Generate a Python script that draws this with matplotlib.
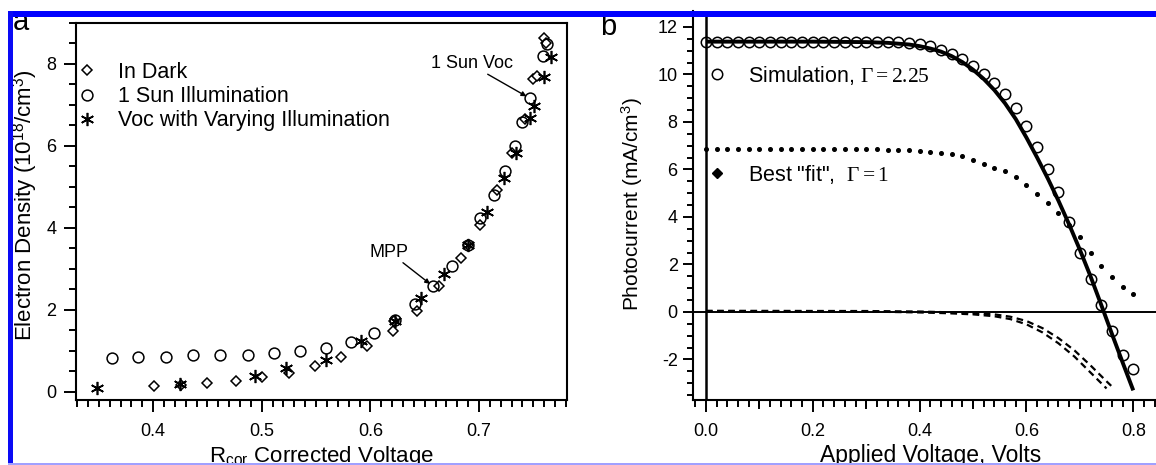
import matplotlib
matplotlib.use('Agg')
import matplotlib.pyplot as plt
from matplotlib.lines import Line2D
from matplotlib.patches import Rectangle
from matplotlib.ticker import MultipleLocator, FormatStrFormatter

plt.rcParams.update({
    'font.family': ['Liberation Sans', 'DejaVu Sans'],
    'mathtext.fontset': 'custom',
    'mathtext.rm': 'Liberation Serif',
    'mathtext.it': 'Liberation Serif:italic',
    'mathtext.bf': 'Liberation Serif:bold',
    'mathtext.sf': 'Liberation Sans',
    'axes.unicode_minus': False,
})

# ---------------- Panel a data ----------------
dark_v = [0.401, 0.426, 0.450, 0.476, 0.500, 0.525, 0.549, 0.573, 0.597, 0.621, 0.622,
          0.643, 0.663, 0.683, 0.690, 0.701, 0.717, 0.730, 0.742, 0.750, 0.753, 0.760, 0.762]
dark_n = [0.15, 0.17, 0.21, 0.27, 0.36, 0.46, 0.62, 0.84, 1.11, 1.49, 1.72,
          1.96, 2.58, 3.27, 3.59, 4.06, 4.92, 5.82, 6.65, 7.63, 7.70, 8.64, 8.50]

sun_v = [0.362, 0.386, 0.412, 0.437, 0.462, 0.487, 0.511, 0.535, 0.559, 0.582, 0.603, 0.623,
         0.641, 0.658, 0.675, 0.690, 0.701, 0.714, 0.724, 0.733, 0.740, 0.747, 0.759, 0.763]
sun_n = [0.82, 0.85, 0.86, 0.89, 0.89, 0.90, 0.95, 1.00, 1.08, 1.21, 1.43, 1.76,
         2.15, 2.57, 3.06, 3.59, 4.25, 4.80, 5.39, 6.00, 6.59, 7.16, 8.20, 8.48]

voc_v = [0.348, 0.425, 0.494, 0.522, 0.559, 0.591, 0.623, 0.647, 0.668, 0.690, 0.707,
         0.723, 0.734, 0.747, 0.751, 0.760, 0.766]
voc_n = [0.09, 0.20, 0.39, 0.58, 0.78, 1.23, 1.72, 2.29, 2.88, 3.59, 4.38,
         5.22, 5.82, 6.69, 6.98, 7.69, 8.18]

mpp_point = (0.658, 2.57)
voc_point = (0.747, 7.16)

# ---------------- Panel b data ----------------
sim_v = [0.00, 0.02, 0.04, 0.06, 0.08, 0.10, 0.12, 0.14, 0.16, 0.18, 0.20, 0.22, 0.24, 0.26,
         0.28, 0.30, 0.32, 0.34, 0.36, 0.38, 0.40, 0.42, 0.44, 0.46, 0.48, 0.50, 0.52, 0.54,
         0.56, 0.58, 0.60, 0.62, 0.64, 0.66, 0.68, 0.70, 0.72, 0.74, 0.76, 0.78, 0.80]
sim_i = [11.38, 11.38, 11.38, 11.38, 11.38, 11.38, 11.38, 11.38, 11.38, 11.38, 11.38, 11.38,
         11.38, 11.38, 11.38, 11.37, 11.37, 11.36, 11.35, 11.33, 11.30, 11.20, 11.04, 10.86,
         10.63, 10.36, 10.02, 9.63, 9.18, 8.58, 7.85, 6.95, 6.02, 5.05, 3.80, 2.48, 1.40,
         0.30, -0.80, -1.80, -2.40]

fit_v = [0.00, 0.10, 0.20, 0.30, 0.34, 0.38, 0.40, 0.42, 0.44, 0.46, 0.48, 0.50, 0.52, 0.54,
         0.56, 0.58, 0.60, 0.62, 0.64, 0.66, 0.68, 0.70, 0.72, 0.74, 0.76, 0.78, 0.80]
fit_i = [11.38, 11.38, 11.38, 11.36, 11.33, 11.26, 11.19, 11.09, 10.96, 10.77, 10.52, 10.20,
         9.81, 9.34, 8.78, 8.12, 7.34, 6.50, 5.62, 4.68, 3.68, 2.62, 1.50, 0.30, -0.92,
         -2.12, -3.30]

best_v = sim_v
best_i = [6.86, 6.86, 6.86, 6.86, 6.86, 6.86, 6.86, 6.86, 6.86, 6.86, 6.86, 6.86, 6.86, 6.86,
          6.86, 6.85, 6.84, 6.83, 6.82, 6.80, 6.78, 6.75, 6.70, 6.64, 6.55, 6.40, 6.23, 6.07,
          5.92, 5.68, 5.33, 4.95, 4.60, 4.15, 3.68, 3.15, 2.50, 1.93, 1.48, 1.05, 0.75]

dash1_v = [0.00, 0.30, 0.40, 0.45, 0.50, 0.54, 0.57, 0.60, 0.63, 0.66, 0.69, 0.72, 0.75]
dash1_i = [0.03, 0.02, -0.02, -0.05, -0.10, -0.18, -0.30, -0.52, -0.86, -1.32, -1.88, -2.55, -3.22]
dash2_v = [0.00, 0.30, 0.40, 0.45, 0.50, 0.54, 0.57, 0.60, 0.63, 0.66, 0.69, 0.72, 0.75, 0.762]
dash2_i = [0.05, 0.04, 0.02, -0.01, -0.05, -0.10, -0.20, -0.38, -0.68, -1.10, -1.62, -2.25, -2.92, -3.18]

# ---------------- Figure ----------------
W, H = 1156, 465
fig = plt.figure(figsize=(W / 100, H / 100), dpi=100)


def rect(l, t, r, b):
    return [l / W, 1 - b / H, (r - l) / W, (b - t) / H]


axa = fig.add_axes(rect(76, 23, 567, 400))
axb = fig.add_axes(rect(693, 11, 1176, 400))

TICK_FS = 13
LEG_FS = 15.5

# ---- panel a ----
axa.plot(dark_v, dark_n, ls='none', marker='D', ms=4.7, mfc='white', mec='k', mew=1.1,
         label='In Dark', zorder=3)
axa.plot(sun_v, sun_n, ls='none', marker='o', ms=7.8, mfc='none', mec='k', mew=1.1,
         label='1 Sun Illumination', zorder=4)
axa.plot(voc_v, voc_n, ls='none', marker=(6, 2, 0), ms=9.5, mec='k', mew=1.2,
         label='Voc with Varying Illumination', zorder=5)

axa.set_xlim(0.329, 0.781)
axa.set_ylim(-0.2, 9.0)
axa.xaxis.set_major_locator(MultipleLocator(0.1))
axa.xaxis.set_minor_locator(MultipleLocator(0.01))
axa.xaxis.set_major_formatter(FormatStrFormatter('%.1f'))
axa.yaxis.set_major_locator(MultipleLocator(2))
axa.yaxis.set_minor_locator(MultipleLocator(0.5))
for s in axa.spines.values():
    s.set_linewidth(1.5)
axa.tick_params(axis='both', which='major', direction='out', width=1.4, labelsize=TICK_FS)
axa.tick_params(axis='x', which='major', length=8.6, pad=8)
axa.tick_params(axis='x', which='minor', length=5, width=1.4)
axa.tick_params(axis='y', which='major', length=9, pad=5)
axa.tick_params(axis='y', which='minor', length=5, width=1.4)

axa.set_ylabel('Electron Density (10$^{\\mathsf{18}}$/cm$^{\\mathsf{3}}$)', fontsize=16)
axa.yaxis.set_label_coords(-0.0733, 0.517)
axa.set_xlabel('R$_{\\mathsf{cor}}$ Corrected Voltage', fontsize=16)
axa.xaxis.set_label_coords(0.5, -(462 - 400) / 377)
axa.xaxis.label.set_va('baseline')

axa.legend(loc='upper left', bbox_to_anchor=(78.4 / W, 1 - 62 / H), bbox_transform=fig.transFigure,
           frameon=False, fontsize=LEG_FS, handlelength=0.8, handletextpad=1.05,
           labelspacing=0.15, borderpad=0, borderaxespad=0)

axa.text(0.6175, 3.40, 'MPP', fontsize=13, ha='center', va='center')
axa.annotate('', xy=mpp_point, xytext=(0.630, 3.15),
             arrowprops=dict(arrowstyle='-|>', lw=1.0, color='k', mutation_scale=7,
                             shrinkA=0, shrinkB=3))
axa.text(0.694, 8.00, '1 Sun Voc', fontsize=13, ha='center', va='center')
axa.annotate('', xy=voc_point, xytext=(0.708, 7.75),
             arrowprops=dict(arrowstyle='-|>', lw=1.0, color='k', mutation_scale=7,
                             shrinkA=0, shrinkB=3))

# ---- panel b ----
axb.axhline(0, color='k', lw=1.4, zorder=2)
axb.axvline(0, color='k', lw=1.8, zorder=2)
axb.plot(dash1_v, dash1_i, color='k', ls=(0, (3, 2)), lw=1.6, zorder=3)
axb.plot(dash2_v, dash2_i, color='k', ls=(0, (3, 2)), lw=1.6, zorder=3)
axb.plot(best_v, best_i, ls='none', marker='o', ms=2.6, color='k', zorder=3)
axb.plot(fit_v, fit_i, color='k', lw=2.8, solid_capstyle='butt', zorder=4)
axb.plot(sim_v, sim_i, ls='none', marker='o', ms=7.5, mfc='none', mec='k', mew=1.1, zorder=5)

axb.set_xlim(-0.0243, 0.88)
axb.set_ylim(-3.705, 12.67)
axb.spines['top'].set_visible(False)
axb.spines['right'].set_visible(False)
for s in ('left', 'bottom'):
    axb.spines[s].set_linewidth(1.5)
axb.xaxis.set_major_locator(MultipleLocator(0.2))
axb.xaxis.set_minor_locator(MultipleLocator(0.02))
axb.xaxis.set_major_formatter(FormatStrFormatter('%.1f'))
axb.yaxis.set_major_locator(MultipleLocator(2))
axb.yaxis.set_minor_locator(MultipleLocator(0.5))
axb.tick_params(axis='both', which='major', direction='out', width=1.4, labelsize=TICK_FS)
axb.tick_params(axis='x', which='major', length=8.6, pad=8)
axb.tick_params(axis='x', which='minor', length=5, width=1.4)
axb.tick_params(axis='y', which='major', length=7.5, pad=3.5)
axb.tick_params(axis='y', which='minor', length=4.3, width=1.4)
sec = axb.secondary_xaxis('bottom')
sec.set_xticks([0.1, 0.3, 0.5, 0.7])
sec.tick_params(length=6.8, width=1.4, labelbottom=False)
sec.spines['bottom'].set_visible(False)

axb.set_ylabel('Photocurrent (mA/cm$^{\\mathsf{3}}$)', fontsize=15)
axb.yaxis.set_label_coords((645 - 693) / 483, 0.504)
axb.set_xlabel('Applied Voltage, Volts', fontsize=16.5)
axb.xaxis.set_label_coords((931 - 693) / 483, -(462 - 400) / 389)
axb.xaxis.label.set_va('baseline')

hb = [Line2D([], [], ls='none', marker='o', ms=7.5, mfc='white', mec='k', mew=1.1),
      Line2D([], [], ls='none', marker='D', ms=5, color='k')]
axb.legend(hb, ['Simulation, $\\mathrm{\\Gamma = 2.25}$', 'Best "fit",  $\\mathrm{\\Gamma = 1}$'],
           loc='upper left', bbox_to_anchor=(708.4 / W, 1 - 63.6 / H), bbox_transform=fig.transFigure,
           frameon=False, fontsize=LEG_FS, handlelength=0.8, handletextpad=1.05,
           labelspacing=3.55, borderpad=0, borderaxespad=0)

# ---- panel letters ----
fig.text(13 / W, 1 - 30 / H, 'a', fontsize=21, ha='left', va='baseline')
fig.text(600 / W, 1 - 35 / H, 'b', fontsize=21, ha='left', va='baseline')

# ---- blue frame (scan border) ----
fig.add_artist(Rectangle((8 / W, 1 - 16.7 / H), 1, 5.7 / H, transform=fig.transFigure,
                         facecolor='#0000ff', edgecolor='none', zorder=10))
fig.add_artist(Rectangle((8 / W, 1 - 463 / H), 5 / W, 452 / H, transform=fig.transFigure,
                         facecolor='#0a0af5', edgecolor='none', zorder=10))
fig.add_artist(Rectangle((8 / W, 0), 1, 2.2 / H, transform=fig.transFigure,
                         facecolor='#a0a0ff', edgecolor='none', zorder=10))

fig.savefig('out.png', dpi=100)
